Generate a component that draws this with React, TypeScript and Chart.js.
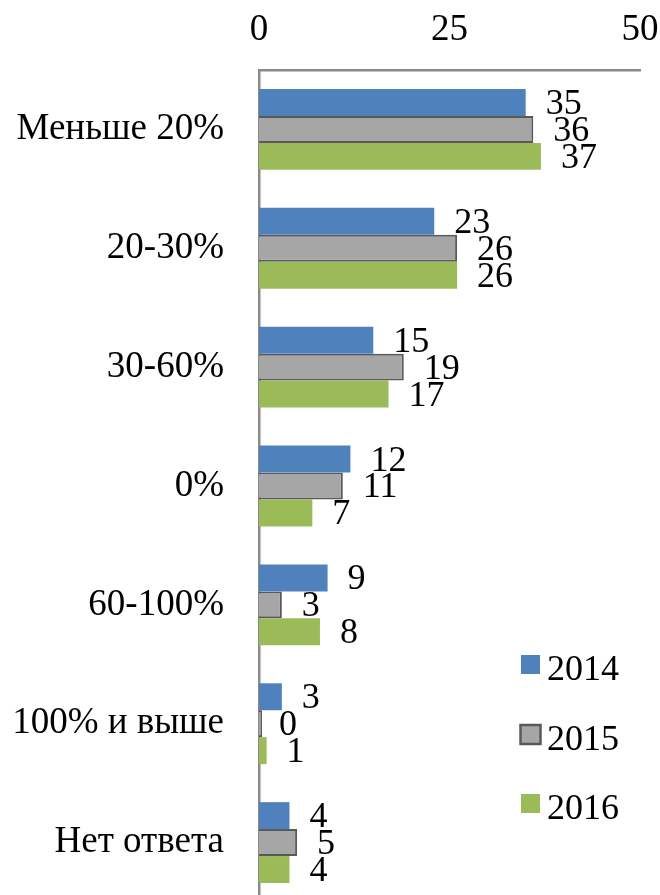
import React, { useEffect, useRef } from "react";
import { Chart, registerables } from "chart.js";

Chart.register(...registerables);

const categories = ["Меньше 20%", "20-30%", "30-60%", "0%", "60-100%", "100% и выше", "Нет ответа"];
const seriesLabels = ["2014", "2015", "2016"];
const values2014 = [35, 23, 15, 12, 9, 3, 4];
const values2015 = [36, 26, 19, 11, 3, 0, 5];
const values2016 = [37, 26, 17, 7, 8, 1, 4];
const xMin = 0;
const xMax = 50;
const xStep = 25;

const FONT = '"Liberation Serif", "Times New Roman", serif';
const COLORS = ["#4F81BD", "#A6A6A6", "#9BBB59"];
const BORDERS = ["#4F81BD", "#595959", "#9BBB59"];
const BORDER_W = [0, 2, 0];

const dataLabelPlugin = {
  id: "dataLabels",
  afterDatasetsDraw(chart: any) {
    const ctx = chart.ctx;
    ctx.save();
    ctx.font = `36px ${FONT}`;
    ctx.fillStyle = "#000";
    ctx.textAlign = "left";
    ctx.textBaseline = "middle";
    chart.data.datasets.forEach((ds: any, di: number) => {
      const meta = chart.getDatasetMeta(di);
      meta.data.forEach((el: any, i: number) => {
        const base = chart.scales.x.getPixelForValue(ds.data[i]);
        ctx.fillText(String(ds.data[i]), base + 20, el.y + 2);
      });
    });
    ctx.restore();
  },
};

const legendPlugin = {
  id: "sideLegend",
  afterDraw(chart: any) {
    const ctx = chart.ctx;
    const boxX = 521;
    const boxSize = 19;
    const firstTop = 655;
    const step = 69.5;
    ctx.save();
    ctx.font = `36px ${FONT}`;
    ctx.fillStyle = "#000";
    ctx.textAlign = "left";
    ctx.textBaseline = "alphabetic";
    chart.data.datasets.forEach((ds: any, i: number) => {
      const top = firstTop + i * step;
      ctx.fillStyle = ds.backgroundColor;
      ctx.fillRect(boxX, top, boxSize, boxSize);
      if (ds.borderWidth) {
        ctx.strokeStyle = ds.borderColor;
        ctx.lineWidth = 2.5;
        ctx.strokeRect(boxX - 0.5, top + 0.5, boxSize + 1, boxSize);
      }
      ctx.fillStyle = "#000";
      ctx.fillText(ds.label, 547, top + 25);
    });
    ctx.restore();
  },
};

export default function App() {
  const ref = useRef<HTMLCanvasElement | null>(null);

  useEffect(() => {
    document.body.style.margin = "0";
    document.body.style.overflow = "hidden";
    document.documentElement.style.overflow = "hidden";
    if (!ref.current) return;
    const seriesValues = [values2014, values2015, values2016];
    const chart = new Chart(ref.current, {
      type: "bar",
      data: {
        labels: categories,
        datasets: seriesLabels.map((label, i) => ({
          label,
          data: seriesValues[i],
          backgroundColor: COLORS[i],
          borderColor: BORDERS[i],
          borderWidth: BORDER_W[i],
          minBarLength: i === 1 ? 3 : 0,
          categoryPercentage: 0.68,
          barPercentage: 1.0,
        })),
      },
      options: {
        indexAxis: "y",
        animation: false,
        responsive: false,
        devicePixelRatio: 1,
        layout: { padding: { left: 0, right: 20, top: 0, bottom: 0 } },
        plugins: {
          legend: { display: false },
          tooltip: { enabled: false },
          title: { display: false },
        },
        scales: {
          x: {
            position: "top",
            min: xMin,
            max: xMax,
            grid: { display: false, drawTicks: false, tickLength: 0 },
            border: { display: true, color: "#8A8A8A", width: 2.5 },
            ticks: {
              stepSize: xStep,
              color: "#000",
              padding: 18,
              maxRotation: 0,
              font: { family: FONT, size: 37 },
            },
            afterFit(scale: any) {
              scale.height = 70;
              scale.paddingLeft = 0;
              scale.paddingRight = 0;
            },
          },
          y: {
            position: "left",
            grid: { display: false, drawTicks: false, tickLength: 0 },
            border: { display: true, color: "#8A8A8A", width: 2.5 },
            ticks: {
              color: "#000",
              padding: 35,
              font: { family: FONT, size: 37 },
            },
            afterFit(scale: any) {
              scale.width = 259;
              scale.paddingTop = 0;
              scale.paddingBottom = 0;
            },
          },
        },
      },
      plugins: [dataLabelPlugin, legendPlugin],
    });
    return () => chart.destroy();
  }, []);

  return (
    <div style={{ width: 660, height: 902, position: "relative" }}>
      <canvas ref={ref} width={660} height={902} style={{ display: "block" }} />
    </div>
  );
}
